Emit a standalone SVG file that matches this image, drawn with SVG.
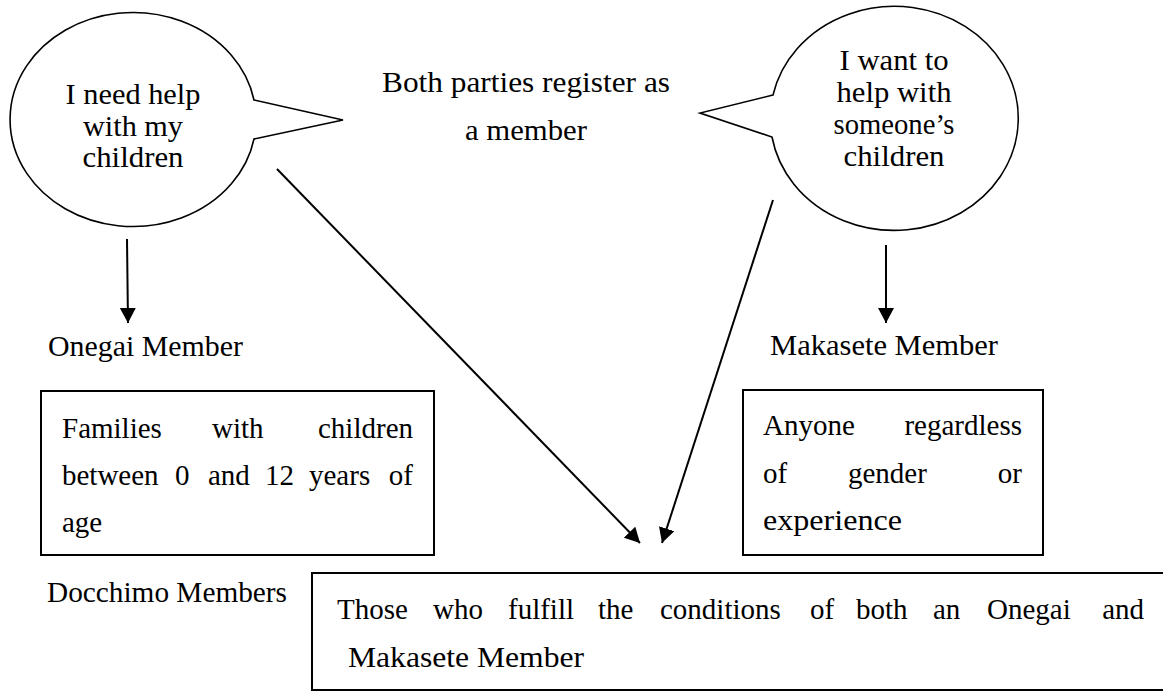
<svg xmlns="http://www.w3.org/2000/svg" width="1163" height="691" viewBox="0 0 1163 691">
<style>
  .t { font-family: "Liberation Serif", "Times New Roman", serif; font-size: 29px; fill: #000; }
  .c { text-anchor: middle; }
  .shape { fill: #fff; stroke: #000; stroke-width: 1.6; }
  .box { fill: #fff; stroke: #000; stroke-width: 2; }
  .conn line { stroke: #000; stroke-width: 2; fill: none; }
</style>
<defs>
  <marker id="ah" markerUnits="userSpaceOnUse" markerWidth="18" markerHeight="18" refX="15" refY="8" orient="auto">
    <path d="M0,0 L15,8 L0,16 z" fill="#000"/>
  </marker>
</defs>
<rect width="1163" height="691" fill="#fff"/>

<g id="bubble-need">
  <path class="shape" d="M254,100 L343,120 L254,139 A123 107 0 1 1 254,100 Z"/>
  <text class="t c" x="133" y="104" textLength="135" lengthAdjust="spacingAndGlyphs">I need help</text>
  <text class="t c" x="133" y="135.5" textLength="100" lengthAdjust="spacingAndGlyphs">with my</text>
  <text class="t c" x="133" y="167" textLength="101" lengthAdjust="spacingAndGlyphs">children</text>
</g>

<g id="bubble-want">
  <path class="shape" d="M773,95 L700,113 L772,137 A124 112 0 1 0 773,95 Z"/>
  <text class="t c" x="894" y="70" textLength="109" lengthAdjust="spacingAndGlyphs">I want to</text>
  <text class="t c" x="894" y="102" textLength="115" lengthAdjust="spacingAndGlyphs">help with</text>
  <text class="t c" x="894" y="134" textLength="121" lengthAdjust="spacingAndGlyphs">someone’s</text>
  <text class="t c" x="894" y="166" textLength="101" lengthAdjust="spacingAndGlyphs">children</text>
</g>

<g id="register-label">
  <text class="t c" x="526" y="92" textLength="288" lengthAdjust="spacingAndGlyphs">Both parties register as</text>
  <text class="t c" x="526" y="140" textLength="122" lengthAdjust="spacingAndGlyphs">a member</text>
</g>

<g id="onegai-label">
  <text class="t" x="48" y="356" textLength="195" lengthAdjust="spacingAndGlyphs">Onegai Member</text>
</g>

<g id="makasete-label">
  <text class="t" x="770" y="355" textLength="228" lengthAdjust="spacingAndGlyphs">Makasete Member</text>
</g>

<g id="onegai-box">
  <rect class="box" x="41" y="391" width="393" height="164"/>
  <text class="t" y="438"><tspan x="62">Families</tspan><tspan x="212">with</tspan><tspan x="413" text-anchor="end">children</tspan></text>
  <text class="t" y="485"><tspan x="62">between</tspan><tspan x="175">0</tspan><tspan x="208">and</tspan><tspan x="265">12</tspan><tspan x="309">years</tspan><tspan x="413" text-anchor="end">of</tspan></text>
  <text class="t" x="62" y="532">age</text>
</g>

<g id="makasete-box">
  <rect class="box" x="743" y="390" width="300" height="165"/>
  <text class="t" y="435"><tspan x="763">Anyone</tspan><tspan x="1022" text-anchor="end">regardless</tspan></text>
  <text class="t" y="483"><tspan x="763">of</tspan><tspan x="848">gender</tspan><tspan x="1022" text-anchor="end">or</tspan></text>
  <text class="t" x="763" y="530" textLength="139" lengthAdjust="spacingAndGlyphs">experience</text>
</g>

<g id="docchimo-label">
  <text class="t" x="47" y="602" textLength="240" lengthAdjust="spacingAndGlyphs">Docchimo Members</text>
</g>

<g id="docchimo-box">
  <rect class="box" x="312" y="573" width="860" height="117"/>
  <text class="t" y="619"><tspan x="337">Those</tspan><tspan x="433">who</tspan><tspan x="508">fulfill</tspan><tspan x="598">the</tspan><tspan x="660">conditions</tspan><tspan x="810">of</tspan><tspan x="856">both</tspan><tspan x="933">an</tspan><tspan x="987">Onegai</tspan><tspan x="1144" text-anchor="end">and</tspan></text>
  <text class="t" x="348" y="667" textLength="236" lengthAdjust="spacingAndGlyphs">Makasete Member</text>
</g>

<g id="connectors" class="conn">
  <line x1="127" y1="239" x2="128" y2="323" marker-end="url(#ah)"/>
  <line x1="886" y1="245" x2="886" y2="323" marker-end="url(#ah)"/>
  <line x1="277" y1="169" x2="640" y2="543" marker-end="url(#ah)"/>
  <line x1="773" y1="200" x2="662" y2="543" marker-end="url(#ah)"/>
</g>
</svg>
